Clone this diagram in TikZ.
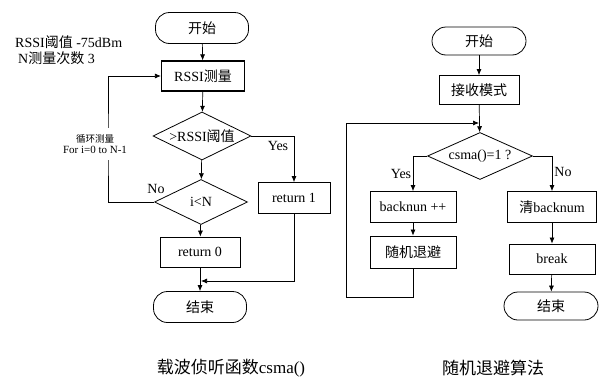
\documentclass[tikz,border=0pt]{standalone}
\usepackage{fontspec}
\setmainfont{Liberation Serif}
\newfontfamily\cjk{Noto Sans CJK SC}
\usetikzlibrary{shapes.geometric,arrows.meta}
\tikzset{
  base/.style={font=\fontsize{14}{16}\selectfont, inner sep=0pt, line width=0.8pt},
  procbox/.style={base, draw, rectangle},
  termbox/.style={base, draw, rectangle, rounded corners=14pt},
  decbox/.style={base, draw, diamond, aspect=2},
  lab/.style={font=\fontsize{14}{16}\selectfont, inner sep=0pt},
  conn/.style={line width=0.7pt, -{Latex[length=6pt,width=5pt]}},
  plain/.style={line width=0.7pt},
}
\begin{document}
\begin{tikzpicture}[x=1pt,y=-1pt]
\useasboundingbox (0,0) rectangle (600,383);
% left flowchart
\node[termbox, minimum width=93pt, minimum height=31pt] (s1) at (202,28) {\cjk 开始};
\node[procbox, line width=1.2pt, minimum width=83pt, minimum height=30pt] (m1) at (203,76) {RSSI{\cjk 测量}};
\node[decbox, minimum width=98pt, minimum height=48pt] (d1) at (202,136) {>RSSI{\cjk 阈值}};
\node[decbox, minimum width=93pt, minimum height=45pt] (d2) at (201,202) {i<N};
\node[procbox, minimum width=72pt, minimum height=31pt] (r1) at (294,198) {return 1};
\node[procbox, minimum width=80pt, minimum height=30pt] (r0) at (200,252) {return 0};
\node[termbox, minimum width=93pt, minimum height=31pt] (e1) at (200,307) {\cjk 结束};
\coordinate (loopL) at (108,150);
\coordinate (m0) at (201,281);
\node[lab, anchor=west] (t1) at (15,42) {RSSI{\cjk 阈值} -75dBm};
\node[lab, anchor=west] (t2) at (18,58) {N{\cjk 测量次数} 3};

\draw[conn] (s1) -- (m1);
\draw[conn] (m1) -- (d1);
\draw[conn] (d1.east) -| (r1.north);
\draw[conn] (d1) -- (d2);
\draw[conn] (d2) -- (r0);
\draw[conn] (r0) -- (e1);
\draw[conn] (r1.south) |- (m0);
\draw[conn] (d2.west) -| (loopL) |- (m1.west);
\node[fill=white, inner sep=2pt, align=center, minimum width=80pt, minimum height=32pt] (loopLab) at (95,144)
  {{\cjk\fontsize{9.5}{11}\selectfont 循环测量}\\[-1pt]{\fontsize{11}{12}\selectfont For i=0 to N-1}};
\node[lab] (yes1) at (278,146) {Yes};
\node[lab] (no1) at (156,189) {No};

% right flowchart
\node[termbox, minimum width=94pt, minimum height=28pt] (s2) at (479,41) {\cjk 开始};
\node[procbox, minimum width=80pt, minimum height=29pt] (rx) at (479,90) {\cjk 接收模式};
\node[decbox, minimum width=105pt, minimum height=47pt] (d3) at (480,156) {csma()=1 ?};
\node[procbox, minimum width=86pt, minimum height=31pt] (bk) at (413,207) {backnun ++};
\node[procbox, minimum width=86pt, minimum height=32pt] (rb) at (413,252) {\cjk 随机退避};
\node[procbox, minimum width=89pt, minimum height=31pt] (cl) at (552,207) {{\cjk 清}backnum};
\node[procbox, minimum width=86pt, minimum height=30pt] (br) at (552,259) {break};
\node[termbox, minimum width=94pt, minimum height=28pt] (e2) at (551,306) {\cjk 结束};
\coordinate (loopB) at (346,297);
\coordinate (loopJ) at (479,123);

\draw[conn] (s2) -- (rx);
\draw[conn] (rx) -- (d3);
\draw[conn] (d3.west) -| (bk.north);
\draw[conn] (d3.east) -| (cl.north);
\draw[conn] (bk) -- (rb);
\draw[conn] (cl) -- (br);
\draw[conn] (br) -- (e2);
\draw[conn] (rb.south) |- (loopB) |- (loopJ);
\node[lab] (yes2) at (401,174) {Yes};
\node[lab] (no2) at (563,172) {No};

% captions
\node[lab, font=\fontsize{17}{19}\selectfont] (cap1) at (231,368) {{\cjk 载波侦听函数}csma()};
\node[lab, font=\fontsize{17}{19}\selectfont] (cap2) at (493,368) {\cjk 随机退避算法};
\end{tikzpicture}
\end{document}
